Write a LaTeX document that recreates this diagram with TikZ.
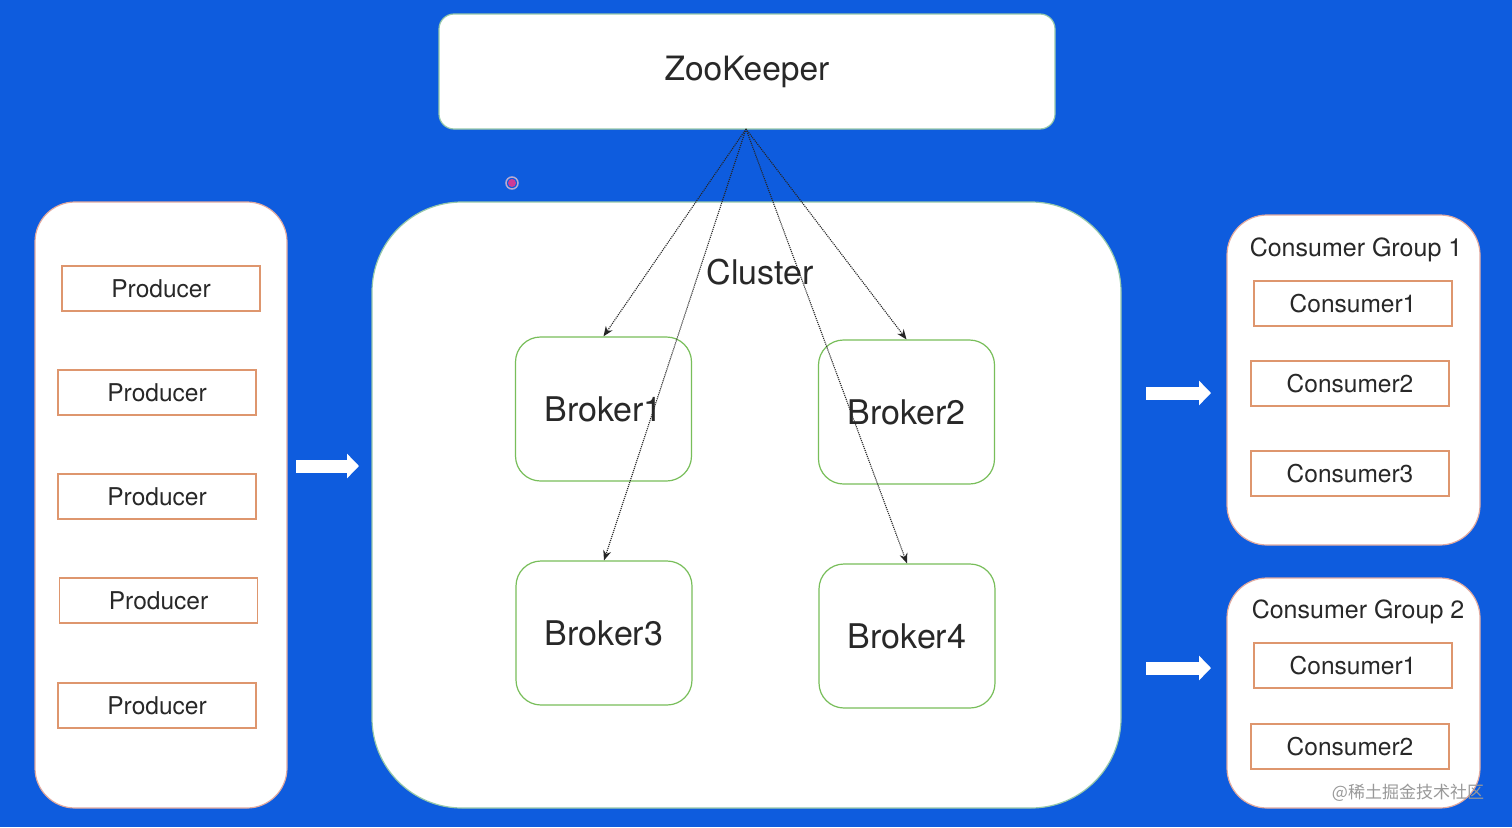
\documentclass[tikz,border=0pt]{standalone}
\usepackage{fontspec}
\setmainfont{TeX Gyre Heros}
\newfontfamily\cjk{Noto Sans CJK SC}
\usetikzlibrary{arrows.meta}
\definecolor{bgblue}{RGB}{14,92,222}
\definecolor{panelpink}{RGB}{225,170,160}
\definecolor{boxtan}{RGB}{222,150,110}
\definecolor{brokergreen}{RGB}{120,190,90}
\definecolor{zkline}{RGB}{150,200,170}
\definecolor{txt}{RGB}{40,40,40}
\begin{document}
\begin{tikzpicture}[x=1pt,y=-1pt,
  panel/.style={draw=panelpink, line width=1.2pt, fill=white, rounded corners=40pt, inner sep=0pt},
  itembox/.style={draw=boxtan, line width=1.2pt, fill=white, minimum width=198pt, minimum height=45pt, inner sep=0pt, text=txt, font=\fontsize{24.5}{26}\selectfont},
  brokerbox/.style={draw=brokergreen, line width=1.2pt, fill=white, rounded corners=25pt, minimum width=176pt, minimum height=144pt, inner sep=0pt, text=txt, font=\fontsize{34}{36}\selectfont},
  bigarrow/.style={draw=white, line width=13pt, -{Triangle[width=24pt,length=12pt]}},
  zkarrow/.style={densely dotted, line width=1.1pt, black!85, -{Stealth[length=10pt,width=8pt]}},
  grouptitle/.style={text=txt, font=\fontsize{25}{27}\selectfont, inner sep=0pt}
]
\fill[bgblue] (0,0) rectangle (1512,827);
\useasboundingbox (0,0) rectangle (1512,827);

% ZooKeeper
\node[draw=zkline, line width=1.2pt, fill=white, rounded corners=15pt, minimum width=616pt, minimum height=115pt, inner sep=0pt, text=txt, font=\fontsize{33.5}{35}\selectfont] (zk) at (747,71.5) {ZooKeeper};
\coordinate (zkb) at (746,129);

% pink cursor dot
\fill[red!60!magenta!80, opacity=0.8] (512,183) circle (4pt);
\draw[pink!80, line width=1.5pt, opacity=0.7] (512,183) circle (6pt);

% Producer panel
\node[panel, minimum width=252pt, minimum height=606pt] (prodpanel) at (161,505) {};
\node[itembox] (p1) at (161,288.5) {Producer};
\node[itembox] (p2) at (157,392.5) {Producer};
\node[itembox] (p3) at (157,496.5) {Producer};
\node[itembox] (p4) at (158.5,600.5) {Producer};
\node[itembox] (p5) at (157,705.5) {Producer};

% Cluster panel
\node[draw=zkline, line width=1.2pt, fill=white, rounded corners=90pt, minimum width=749pt, minimum height=606pt, inner sep=0pt] (cluster) at (746.5,505) {};
\node[text=txt, font=\fontsize{34}{36}\selectfont, inner sep=0pt] (clusterlbl) at (760,272) {Cluster};

% Brokers
\node[brokerbox] (b1) at (603.5,409) {Broker1};
\node[brokerbox] (b2) at (906.5,412) {Broker2};
\node[brokerbox] (b3) at (604,633) {Broker3};
\node[brokerbox] (b4) at (907,636) {Broker4};

% Zookeeper arrows
\draw[zkarrow] (zkb) -- (b1.north);
\draw[zkarrow] (zkb) -- (b3.north);
\draw[zkarrow] (zkb) -- (b2.north);
\draw[zkarrow] (zkb) -- (b4.north);

% Consumer group 1
\node[panel, minimum width=253pt, minimum height=330pt] (cg1) at (1353.5,380) {};
\node[grouptitle] (cg1t) at (1356,250) {Consumer Group 1};
\node[itembox] (c11) at (1353,303.5) {Consumer1};
\node[itembox] (c12) at (1350,383.5) {Consumer2};
\node[itembox] (c13) at (1350,473.5) {Consumer3};

% Consumer group 2
\node[panel, minimum width=253pt, minimum height=230pt] (cg2) at (1353.5,693) {};
\node[grouptitle] (cg2t) at (1358,612) {Consumer Group 2};
\node[itembox] (c21) at (1353,665.5) {Consumer1};
\node[itembox] (c22) at (1350,746.5) {Consumer2};

% Block arrows
\coordinate (a1s) at (296,466); \coordinate (a1e) at (359,466);
\coordinate (a2s) at (1146,393); \coordinate (a2e) at (1211,393);
\coordinate (a3s) at (1146,668); \coordinate (a3e) at (1211,668);
\draw[bigarrow] (a1s) -- (a1e);
\draw[bigarrow] (a2s) -- (a2e);
\draw[bigarrow] (a3s) -- (a3e);

% watermark
\node[text=black!40, font=\cjk\fontsize{17}{19}\selectfont, inner sep=0pt] (wm) at (1408,793) {@稀土掘金技术社区};
\end{tikzpicture}
\end{document}
